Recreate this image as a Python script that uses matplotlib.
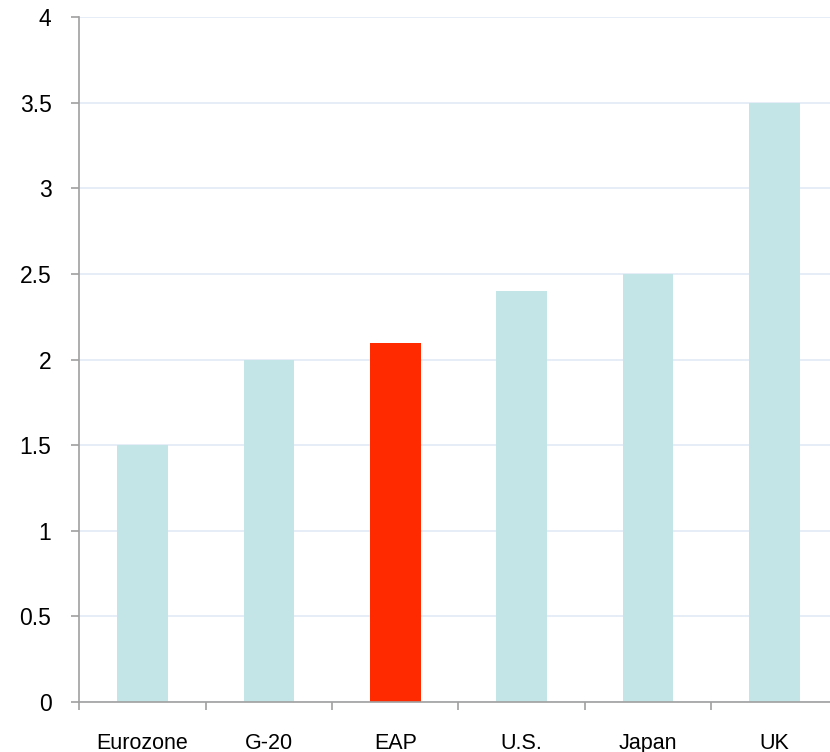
import matplotlib
matplotlib.use('Agg')
import matplotlib.pyplot as plt
import numpy as np

plt.rcParams['font.family'] = ['Liberation Sans', 'DejaVu Sans']

categories = ['Eurozone', 'G-20', 'EAP', 'U.S.', 'Japan', 'UK']
values = [1.5, 2.0, 2.1, 2.4, 2.5, 3.5]
colors = ['#c3e5e7', '#c3e5e7', '#ff2a00', '#c3e5e7', '#c3e5e7', '#c3e5e7']
yticks = [0, 0.5, 1, 1.5, 2, 2.5, 3, 3.5, 4]
ytick_labels = ['0', '0.5', '1', '1.5', '2', '2.5', '3', '3.5', '4']

fig = plt.figure(figsize=(8.3, 7.52), dpi=100)
ax = fig.add_axes([0.0955, 0.0665, 0.9045, 0.9105])

x = np.arange(len(categories))
ax.bar(x, values, width=0.4, color=colors, zorder=2)

ax.set_ylim(0, 4)
ax.set_xlim(-0.5, 5.44)
ax.set_yticks(yticks)
ax.set_yticklabels(ytick_labels, fontsize=16.5)
ax.yaxis.grid(True, color='#e4ecf6', linewidth=1.3, zorder=0)

ax.set_xticks(x)
ax.set_xticklabels(categories, fontsize=15.5)
ax.tick_params(axis='x', which='major', length=0, pad=22)
ax.set_xticks(np.arange(-0.5, 5.5, 1), minor=True)
ax.tick_params(axis='x', which='minor', length=6, width=1.2, color='#a0a0a0', direction='out')
ax.tick_params(axis='y', length=6, width=1.2, color='#a0a0a0', pad=14)

for s in ['top', 'right']:
    ax.spines[s].set_visible(False)
for s in ['left', 'bottom']:
    ax.spines[s].set_color('#a0a0a0')
    ax.spines[s].set_linewidth(1.2)

fig.savefig('out.png', dpi=100)
